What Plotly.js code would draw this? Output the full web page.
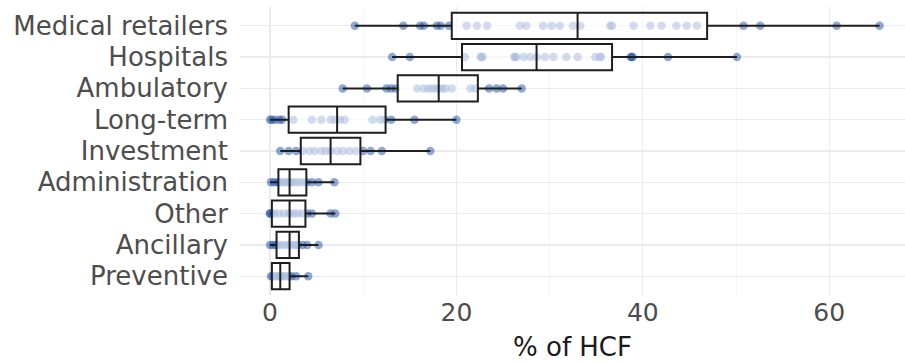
<!DOCTYPE html>
<html>
<head>
<meta charset="utf-8">
<script src="https://cdn.plot.ly/plotly-3.0.1.min.js"></script>
<style>html,body{margin:0;padding:0;background:#fff;}#chart{width:905px;height:362px;}</style>
</head>
<body>
<div id="chart"></div>
<script>
// Categories, top to bottom
const categories = ["Medical retailers","Hospitals","Ambulatory","Long-term","Investment","Administration","Other","Ancillary","Preventive"];

// Individual observations (% of HCF) per category
const medicalRetailers = [9.1,14.3,16.1,16.5,17.9,18.3,19.2,21.1,22.2,23.3,26.8,27.5,29.3,30.2,31.1,32.5,33.3,36.5,36.7,39.0,40.8,42.0,43.6,44.7,45.8,50.8,52.6,60.8,65.4];
const hospitals = [13.1,15.0,20.9,22.6,22.7,22.8,26.2,26.3,26.4,27.2,27.9,28.6,29.5,30.4,31.8,33.0,34.9,35.4,35.5,38.7,38.8,38.9,42.7,50.1];
const ambulatory = [7.8,10.4,12.5,13.0,13.5,15.8,16.5,17.0,17.4,17.8,18.1,18.5,18.8,19.5,21.5,22.0,23.5,24.3,25.0,27.0];
const longTerm = [0.0,0.2,0.5,1.0,1.3,2.5,4.5,5.5,6.5,7.0,7.5,8.0,11.0,11.8,12.3,13.0,15.5,20.0];
const investment = [1.1,2.0,2.8,3.5,4.2,4.8,5.5,6.0,6.5,7.2,7.8,8.5,9.2,10.0,10.8,12.0,17.2];
const administration = [0.1,0.4,0.8,1.0,1.3,1.6,1.9,2.1,2.3,2.6,3.0,3.4,3.9,4.5,5.2,6.9];
const other = [0.0,0.0,0.2,0.5,1.0,1.5,2.0,2.2,2.6,3.0,3.5,4.0,4.5,6.5,7.0];
const ancillary = [0.0,0.3,0.6,0.9,1.2,1.6,2.0,2.2,2.5,2.8,3.0,3.5,4.0,5.2];
const preventive = [0.1,0.3,0.6,0.8,1.0,1.1,1.3,1.5,1.8,2.0,2.3,2.8,4.1];

// Box statistics per category (same order as categories)
const lowerWhisker = [9.1,13.1,7.8,0.0,1.1,0.0,0.0,0.0,0.1];
const q1Values     = [19.5,20.6,13.7,2.0,3.3,0.9,0.2,0.7,0.2];
const medianValues = [33.0,28.6,18.1,7.2,6.5,2.1,2.1,2.1,1.1];
const q3Values     = [46.9,36.7,22.3,12.4,9.7,3.9,3.8,3.1,2.1];
const upperWhisker = [65.4,50.1,27.0,20.0,17.2,6.9,7.0,5.2,4.1];

// Axis ticks
const xTickValues = [0,20,40,60];
const xTickLabels = ["0","20","40","60"];
const xTitle = "% of HCF";

const seriesByCategory = [medicalRetailers,hospitals,ambulatory,longTerm,investment,administration,other,ancillary,preventive];

const px = [], py = [];
seriesByCategory.forEach((vals, i) => {
  vals.forEach(v => { px.push(v); py.push(categories[i]); });
});

const catOrderBottomUp = categories.slice().reverse();

const points = {
  type: 'scatter', mode: 'markers', x: px, y: py,
  xaxis: 'x', yaxis: 'y',
  marker: {size: 8.5, color: 'rgba(38,88,172,0.52)', line: {width: 0}},
  hoverinfo: 'skip', showlegend: false
};

const boxes = {
  type: 'box', orientation: 'h',
  y: categories,
  q1: q1Values, median: medianValues, q3: q3Values,
  lowerfence: lowerWhisker, upperfence: upperWhisker,
  boxpoints: false, whiskerwidth: 0, width: 0.84,
  fillcolor: 'rgba(255,255,255,0.6)',
  line: {color: '#1e1e1e', width: 2},
  xaxis: 'x2', yaxis: 'y2',
  hoverinfo: 'skip', showlegend: false
};

const xRange = [-3.22, 68.13];
const yRange = [-0.6, 8.6];
const fontFamily = 'DejaVu Sans, Liberation Sans, Arial, sans-serif';

const layout = {
  width: 905, height: 362,
  margin: {l: 240, r: 0, t: 7, b: 67},
  paper_bgcolor: '#ffffff', plot_bgcolor: '#ffffff',
  showlegend: false,
  font: {family: fontFamily, color: '#4d4d4d', size: 26},
  xaxis: {
    range: xRange, tickvals: xTickValues, ticktext: xTickLabels,
    showgrid: true, gridcolor: '#ebebeb', gridwidth: 1.3,
    minor: {dtick: 10, tick0: 0, showgrid: true, gridcolor: '#f3f3f3', gridwidth: 0.8},
    zeroline: false, showline: false, ticks: '',
    tickfont: {size: 25, color: '#4d4d4d'},
    title: {text: xTitle, font: {size: 26, color: '#1a1a1a'}, standoff: 16}
  },
  yaxis: {
    type: 'category', categoryorder: 'array', categoryarray: catOrderBottomUp,
    range: yRange, showgrid: true, gridcolor: '#ebebeb', gridwidth: 1.3,
    zeroline: false, showline: false, ticks: '', ticklabelstandoff: 11,
    tickfont: {size: 26, color: '#4d4d4d'}
  },
  xaxis2: {overlaying: 'x', range: xRange, visible: false, showgrid: false, zeroline: false},
  yaxis2: {overlaying: 'y', type: 'category', categoryorder: 'array', categoryarray: catOrderBottomUp,
           range: yRange, visible: false, showgrid: false, zeroline: false}
};

Plotly.newPlot('chart', [points, boxes], layout, {displayModeBar: false, staticPlot: true});
</script>
</body>
</html>
